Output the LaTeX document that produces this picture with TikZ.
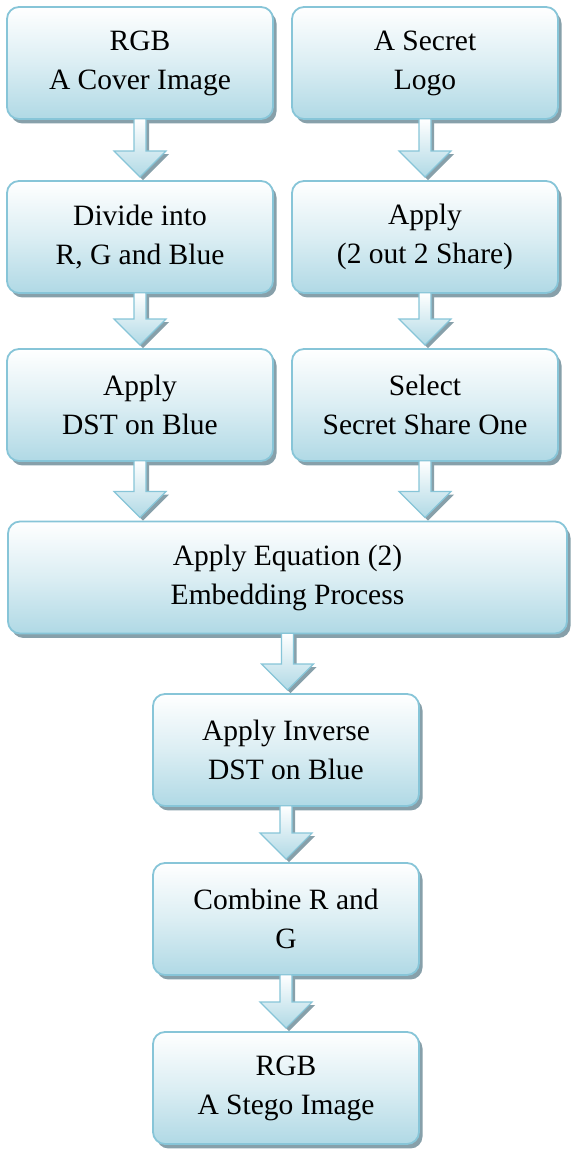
\documentclass[tikz,border=0pt]{standalone}
\usepackage{fontspec}
\setmainfont{Liberation Serif}
\usetikzlibrary{calc,shadows}
\definecolor{boxblue}{RGB}{176,217,229}
\definecolor{edgeblue}{RGB}{135,197,216}
\definecolor{shadowgray}{RGB}{135,160,170}
\tikzset{
  flowbox/.style={draw=edgeblue, line width=1.8pt, rounded corners=12pt,
    top color=white, bottom color=boxblue, middle color={boxblue!45!white},
    minimum width=266pt, minimum height=112pt, inner sep=0pt, align=center,
    font=\fontsize{29.5}{39}\selectfont,
    drop shadow={shadow xshift=3.5pt, shadow yshift=-4.5pt, fill=shadowgray, opacity=1}},
  blockarrow/.style={draw=edgeblue, line width=1.2pt, line join=miter,
    top color=white, bottom color=boxblue,
    drop shadow={shadow xshift=3pt, shadow yshift=-3pt, fill=shadowgray, opacity=1}}
}
\newcommand{\flowarrow}[2]{%
  \draw[blockarrow] let \p1=(#1.south), \p2=(#2.north) in
    (\x1-6pt,\y1+1pt) -- (\x1+6pt,\y1+1pt) -- (\x1+6pt,\y2+29pt) -- (\x1+26pt,\y2+29pt)
    -- (\x1,\y2+3pt) -- (\x1-26pt,\y2+29pt) -- (\x1-6pt,\y2+29pt) -- cycle;}
\begin{document}
\begin{tikzpicture}[x=1pt,y=1pt]
  \fill[white] (0,0) rectangle (572,1151);
  \useasboundingbox (0,0) rectangle (572,1151);
  \node[flowbox] (cover) at (140,1088) {RGB\\A Cover Image};
  \node[flowbox] (secret) at (425,1088) {A Secret\\Logo};
  \node[flowbox] (divide) at (140,914) {Divide into\\R, G and Blue};
  \node[flowbox] (share) at (425,914) {Apply\\(2 out 2 Share)};
  \node[flowbox] (dst) at (140,746) {Apply\\DST on Blue};
  \node[flowbox] (select) at (425,746) {Select\\Secret Share One};
  \node[flowbox, minimum width=559pt] (embed) at (287.5,573.5) {Apply Equation (2)\\Embedding Process};
  \node[flowbox] (inverse) at (286,401) {Apply Inverse\\DST on Blue};
  \node[flowbox] (combine) at (286,232) {Combine R and\\G};
  \node[flowbox] (stego) at (286,63) {RGB\\A Stego Image};
  \flowarrow{cover}{divide}
  \flowarrow{secret}{share}
  \flowarrow{divide}{dst}
  \flowarrow{share}{select}
  \flowarrow{dst}{embed}
  \flowarrow{select}{embed}
  \flowarrow{embed}{inverse}
  \flowarrow{inverse}{combine}
  \flowarrow{combine}{stego}
\end{tikzpicture}
\end{document}
